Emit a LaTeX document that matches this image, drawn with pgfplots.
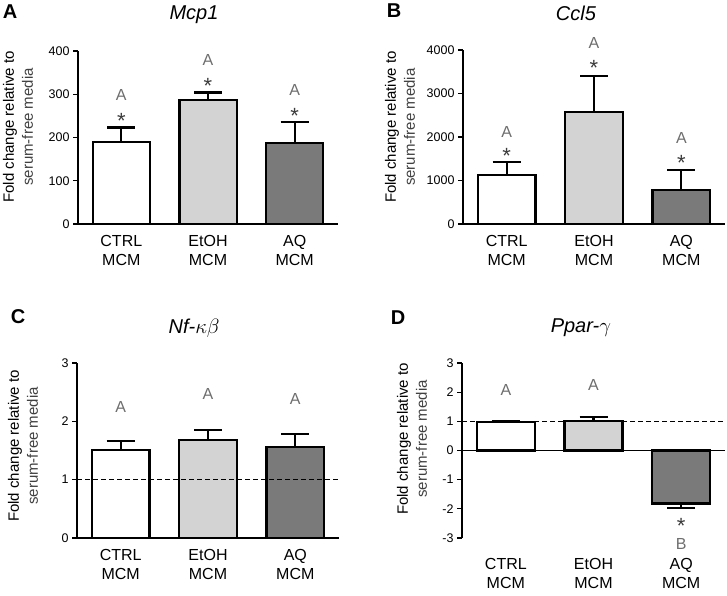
\documentclass[border=0pt]{standalone}
\usepackage{fontspec}
\setmainfont{Liberation Sans}
\usepackage{pgfplots}
\pgfplotsset{compat=1.18}

\definecolor{etoh}{RGB}{211,211,211}
\definecolor{aq}{RGB}{122,122,122}
\definecolor{letter}{RGB}{110,110,110}
\definecolor{star}{RGB}{60,60,60}

\pgfplotsset{
  prism/.style={
    scale only axis,
    xmin=-0.5, xmax=2.5,
    axis x line*=bottom, axis y line*=left,
    axis line style={-, line width=1.3pt},
    xtick={0,1,2},
    xticklabels={CTRL\\MCM, EtOH\\MCM, AQ\\MCM},
    xticklabel style={align=center, font=\fontsize{16}{19}\selectfont, yshift=-3pt},
    x tick style={draw=none},
    tick align=outside,
    major tick length=5pt,
    y tick style={line width=1.3pt, black},
    yticklabel style={font=\fontsize{12.5}{14}\selectfont},
    /pgf/number format/assume math mode=true,
    /pgf/number format/1000 sep={},
    scaled y ticks=false,
    title style={font=\fontsize{20}{24}\selectfont\itshape, anchor=center},
    ylabel style={align=center, font=\fontsize{15}{19}\selectfont, anchor=center},
    clip=false,
  },
  bar/.style={ybar, bar width=0.66, bar shift=0pt, draw=black, line width=2.2pt,
    error bars/y explicit, error bars/y dir=plus,
    error bars/error bar style={line width=2.2pt, black},
    error bars/error mark options={rotate=90, mark size=14pt, line width=2.2pt, black}},
}
\tikzset{
  lett/.style={font=\fontsize{16}{18}\selectfont, text=letter, inner sep=1pt},
  ast/.style={font=\fontsize{22}{24}\selectfont, text=star, inner sep=1pt},
}

\newcommand{\ylab}{Fold change relative to\\\textcolor{black!75}{serum-free media}}

\begin{document}
\begin{tikzpicture}
\path[use as bounding box] (0,0) rectangle (727pt,595pt);

% A: Mcp1
\begin{axis}[prism, at={(78pt,371pt)}, anchor=south west,
  width=260pt, height=173pt,
  ymin=0, ymax=400, ytick={0,100,200,300,400},
  title={Mcp1}, title style={at={(axis description cs:0.446,1.173)}},
  ylabel={\ylab}, ylabel style={at={(axis description cs:-0.231,0.561)}}]
\addplot[bar, fill=white] coordinates {(0,190) +- (0,33)};
\addplot[bar, fill=etoh] coordinates {(1,287) +- (0,17)};
\addplot[bar, fill=aq] coordinates {(2,188) +- (0,47)};
\node[lett] at (axis cs:0,298) {A};
\node[ast] at (axis cs:0,238) {*};
\node[lett] at (axis cs:1,379) {A};
\node[ast] at (axis cs:1,320) {*};
\node[lett] at (axis cs:2,310) {A};
\node[ast] at (axis cs:2,249) {*};
\end{axis}

% B: Ccl5
\begin{axis}[prism, at={(463pt,371pt)}, anchor=south west,
  width=262pt, height=174pt,
  ymin=0, ymax=4000, ytick={0,1000,2000,3000,4000},
  title={Ccl5}, title style={at={(axis description cs:0.431,1.178)}},
  ylabel={\ylab}, ylabel style={at={(axis description cs:-0.240,0.557)}}]
\addplot[bar, fill=white] coordinates {(0,1126) +- (0,299)};
\addplot[bar, fill=etoh] coordinates {(1,2575) +- (0,827)};
\addplot[bar, fill=aq] coordinates {(2,782) +- (0,459)};
\node[lett] at (axis cs:0,2126) {A};
\node[ast] at (axis cs:0,1560) {*};
\node[lett] at (axis cs:1,4161) {A};
\node[ast] at (axis cs:1,3595) {*};
\node[lett] at (axis cs:2,1977) {A};
\node[ast] at (axis cs:2,1400) {*};
\end{axis}

% C: Nf-kappa-beta
\begin{axis}[prism, at={(77pt,57pt)}, anchor=south west,
  width=262pt, height=175pt,
  ymin=0, ymax=3, ytick={0,1,2,3},
  title={Nf-$\kappa\beta$}, title style={at={(axis description cs:0.447,1.166)}},
  ylabel={\ylab}, ylabel style={at={(axis description cs:-0.206,0.526)}}]
\addplot[bar, fill=white] coordinates {(0,1.51) +- (0,0.15)};
\addplot[bar, fill=etoh] coordinates {(1,1.675) +- (0,0.17)};
\addplot[bar, fill=aq] coordinates {(2,1.56) +- (0,0.22)};
\draw[line width=1.3pt, dash pattern=on 5pt off 3pt] (axis cs:-0.5,1) -- (axis cs:2.5,1);
\node[lett] at (axis cs:0,2.25) {A};
\node[lett] at (axis cs:1,2.47) {A};
\node[lett] at (axis cs:2,2.39) {A};
\end{axis}

% D: Ppar-gamma
\begin{axis}[prism, at={(462pt,57pt)}, anchor=south west,
  width=263pt, height=175pt,
  ymin=-3, ymax=3, ytick={-3,-2,-1,0,1,2,3},
  x axis line style={draw=none},
  xticklabel style={yshift=-9pt},
  title={Ppar-$\gamma$}, title style={at={(axis description cs:0.452,1.166)}},
  ylabel={\ylab}, ylabel style={at={(axis description cs:-0.190,0.566)}}]
\addplot[bar, fill=white] coordinates {(0,0.97) +- (0,0.04)};
\addplot[bar, fill=etoh] coordinates {(1,1.02) +- (0,0.12)};
\addplot[bar, fill=aq, error bars/y dir=minus] coordinates {(2,-1.82) +- (0,0.15)};
\draw[line width=1.3pt] (axis cs:-0.5,0) -- (axis cs:2.5,0);
\draw[line width=1.3pt, dash pattern=on 5pt off 3pt] (axis cs:-0.5,1) -- (axis cs:2.5,1);
\node[lett] at (axis cs:0,2.06) {A};
\node[lett] at (axis cs:1,2.24) {A};
\node[ast] at (axis cs:2,-2.6) {*};
\node[lett] at (axis cs:2,-3.2) {B};
\end{axis}

\node[font=\fontsize{20}{24}\selectfont\bfseries] at (10pt,583pt) {A};
\node[font=\fontsize{20}{24}\selectfont\bfseries] at (394pt,584pt) {B};
\node[font=\fontsize{20}{24}\selectfont\bfseries] at (18pt,278pt) {C};
\node[font=\fontsize{20}{24}\selectfont\bfseries] at (398pt,277pt) {D};
\end{tikzpicture}
\end{document}
